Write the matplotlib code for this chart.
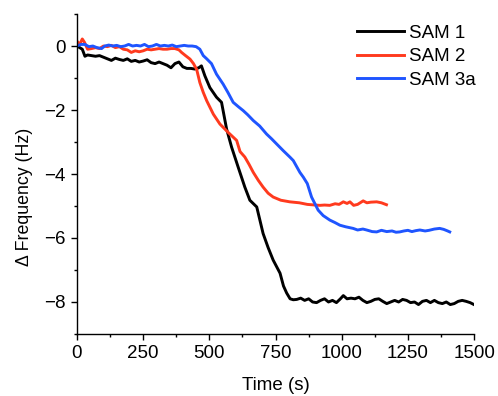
import matplotlib
matplotlib.use("Agg")
import matplotlib.pyplot as plt
from matplotlib.ticker import MultipleLocator

plt.rcParams['font.family'] = ['Liberation Sans', 'DejaVu Sans']

# SAM 1 (black)
t1 = [0, 10, 20, 30, 40, 55, 70, 85, 100, 115, 130, 145, 160, 175, 190, 205, 220,
      235, 250, 265, 280, 295, 310, 325, 340, 355, 370, 385, 400, 415, 430, 445,
      460, 470, 483, 502, 527, 546, 565, 584, 609, 634, 653, 679, 703, 722, 741,
      767, 780, 792, 805, 817, 830, 845, 860, 875, 890, 905, 920, 935, 950, 965,
      980, 995, 1006, 1020, 1035, 1050, 1065, 1080, 1095, 1110, 1125, 1140, 1155,
      1170, 1185, 1200, 1215, 1230, 1245, 1260, 1275, 1290, 1305, 1320, 1335,
      1350, 1365, 1380, 1395, 1410, 1425, 1440, 1455, 1470, 1485, 1497]
f1 = [0.0, -0.05, -0.1, -0.32, -0.28, -0.3, -0.32, -0.3, -0.35, -0.4, -0.45, -0.38,
      -0.42, -0.45, -0.4, -0.48, -0.45, -0.5, -0.47, -0.43, -0.52, -0.55, -0.5,
      -0.55, -0.6, -0.68, -0.55, -0.5, -0.65, -0.7, -0.7, -0.72, -0.68, -0.62,
      -0.93, -1.3, -1.6, -1.76, -2.59, -3.16, -3.79, -4.41, -4.82, -5.03, -5.86,
      -6.3, -6.69, -7.1, -7.5, -7.72, -7.9, -7.93, -7.92, -7.88, -7.95, -7.9, -8.0,
      -8.02, -7.95, -7.9, -8.0, -7.95, -8.02, -7.9, -7.8, -7.9, -7.88, -7.9, -7.85,
      -7.95, -8.02, -7.98, -7.92, -7.9, -7.98, -8.05, -8.0, -7.95, -8.0, -7.92,
      -7.95, -8.02, -8.0, -8.08, -7.98, -7.95, -8.02, -7.95, -8.02, -8.05, -8.0,
      -8.08, -8.05, -7.98, -7.95, -7.98, -8.02, -8.07]

# SAM 2 (red)
t2 = [0, 10, 20, 28, 40, 55, 70, 85, 100, 115, 130, 145, 160, 175, 190, 205, 220,
      235, 250, 265, 280, 295, 310, 325, 340, 355, 370, 385, 395, 410, 427, 440,
      452, 464, 477, 490, 515, 540, 571, 603, 616, 634, 650, 666, 685, 703, 722,
      741, 770, 804, 840, 870, 900, 918, 935, 955, 975, 990, 1006, 1020, 1031,
      1045, 1060, 1081, 1095, 1110, 1132, 1150, 1169]
f2 = [0.15, 0.05, 0.22, 0.12, -0.1, -0.08, -0.05, -0.08, 0.0, -0.02, 0.02, -0.05,
      -0.02, -0.1, -0.12, -0.2, -0.15, -0.18, -0.15, -0.1, -0.12, -0.1, -0.08,
      -0.1, -0.1, -0.08, -0.08, -0.12, -0.2, -0.3, -0.41, -0.55, -0.73, -1.14,
      -1.45, -1.71, -2.13, -2.44, -2.7, -2.95, -3.3, -3.47, -3.7, -3.95, -4.2,
      -4.41, -4.6, -4.72, -4.82, -4.87, -4.9, -4.95, -4.97, -4.98, -4.97, -4.98,
      -4.93, -4.95, -4.87, -4.92, -4.87, -4.98, -4.95, -4.84, -4.9, -4.88, -4.87,
      -4.9, -4.96]

# SAM 3a (blue)
t3 = [0, 15, 30, 45, 60, 75, 93, 105, 120, 135, 150, 165, 180, 195, 210, 225, 240,
      255, 270, 285, 300, 315, 330, 345, 360, 375, 390, 405, 420, 435, 450, 464,
      477, 490, 508, 527, 552, 570, 590, 610, 628, 645, 666, 690, 716, 735, 754,
      779, 804, 817, 842, 855, 870, 886, 900, 911, 930, 955, 975, 993, 1015, 1043,
      1060, 1080, 1094, 1115, 1132, 1150, 1170, 1190, 1205, 1219, 1235, 1250,
      1265, 1280, 1295, 1315, 1330, 1350, 1370, 1385, 1400, 1408]
f3 = [0.0, 0.05, 0.05, -0.02, 0.0, -0.05, -0.08, 0.0, 0.03, 0.0, 0.02, -0.02, 0.0,
      0.05, 0.0, 0.02, 0.0, 0.05, -0.02, 0.0, 0.05, 0.0, 0.02, 0.0, 0.03, -0.02,
      0.0, 0.02, 0.0, 0.0, -0.02, -0.1, -0.3, -0.4, -0.55, -0.88, -1.19, -1.45,
      -1.76, -1.9, -2.02, -2.15, -2.33, -2.5, -2.75, -2.9, -3.06, -3.27, -3.47,
      -3.58, -3.95, -4.1, -4.3, -4.72, -4.95, -5.13, -5.3, -5.44, -5.52, -5.6,
      -5.65, -5.7, -5.75, -5.72, -5.75, -5.8, -5.81, -5.76, -5.8, -5.78, -5.82,
      -5.81, -5.78, -5.76, -5.8, -5.77, -5.75, -5.78, -5.76, -5.72, -5.7, -5.73,
      -5.78, -5.81]

fig = plt.figure(figsize=(4.98, 3.96), dpi=100)
ax = fig.add_axes([0.1546, 0.1566, 0.7974, 0.808])

ax.plot(t1, f1, color="black", lw=2.1, label="SAM 1")
ax.plot(t2, f2, color="#ff3a1e", lw=2.1, label="SAM 2")
ax.plot(t3, f3, color="#1f55ff", lw=2.1, label="SAM 3a")

ax.set_xlim(0, 1500)
ax.set_ylim(-9, 1)
ax.xaxis.set_major_locator(MultipleLocator(250))
ax.xaxis.set_minor_locator(MultipleLocator(125))
ax.yaxis.set_major_locator(MultipleLocator(2))
ax.yaxis.set_minor_locator(MultipleLocator(1))
ax.spines["top"].set_visible(False)
ax.spines["right"].set_visible(False)
for s in ("left", "bottom"):
    ax.spines[s].set_linewidth(1.0)
ax.tick_params(which="major", length=4.5, width=1.0, labelsize=13.5, direction="out")
ax.tick_params(which="minor", length=2.5, width=1.0, direction="out")
ax.set_xlabel("Time (s)", fontsize=13.5)
ax.set_ylabel("\u0394 Frequency (Hz)", fontsize=12.8)
ax.xaxis.set_label_coords(0.5, -0.135)
ax.yaxis.set_label_coords(-0.11, 0.43)

ax.legend(loc="upper right", bbox_to_anchor=(1.047, 1.02), frameon=False, fontsize=13.5,
          handlelength=2.5, handletextpad=0.3, labelspacing=0.35)

fig.savefig("out.png", dpi=100)
